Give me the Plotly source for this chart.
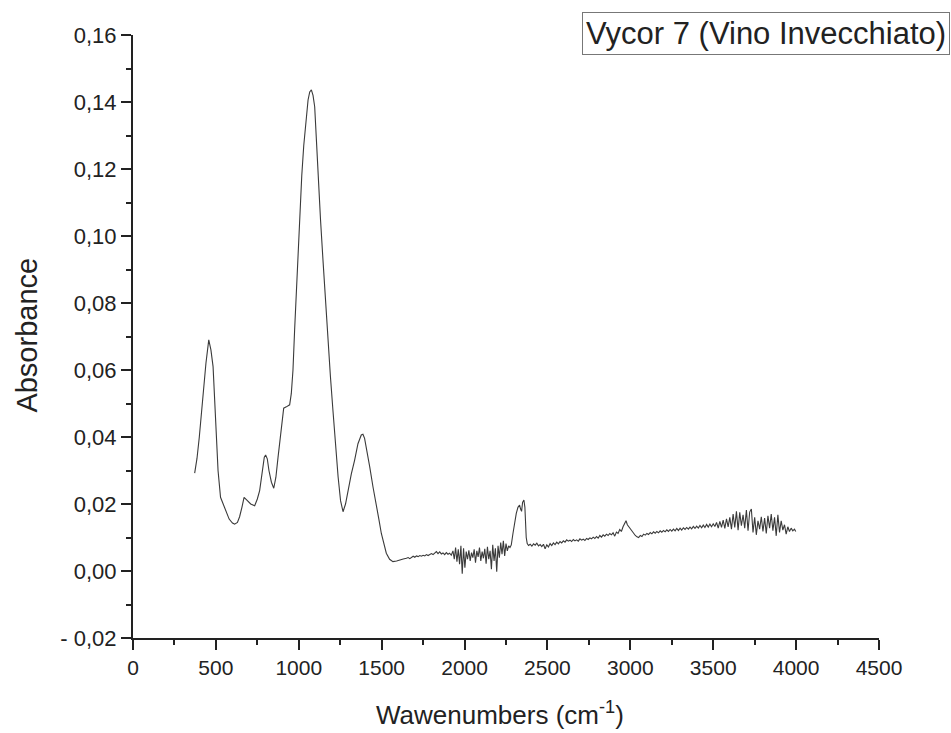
import plotly.graph_objects as go

# ---------------- data ----------------
wavenumber = [
    372, 386, 400, 420, 440, 457, 470, 483, 498, 513, 528, 543, 560, 580, 600, 613, 630, 643, 657, 670,
    690, 710, 734, 750, 764, 780, 792, 800, 810, 820, 835, 849, 862, 875, 892, 909, 925, 945, 955, 965,
    975, 985, 995, 1005, 1018, 1030, 1043, 1056, 1066, 1076, 1086, 1096, 1106, 1116, 1131, 1146, 1161,
    1176, 1191, 1206, 1221, 1237, 1252, 1267, 1282, 1297, 1317, 1337, 1357, 1377, 1387, 1397, 1412, 1428,
    1448, 1468, 1483, 1498, 1513, 1528, 1548, 1568, 1590, 1610, 1630, 1649,
    1660, 1670, 1680, 1690, 1700, 1710, 1720, 1730, 1740, 1750, 1760, 1770, 1780, 1790, 1800, 1810, 1820,
    1830, 1840, 1850, 1860, 1870, 1880, 1890, 1900, 1910, 1920,
    1930, 1938, 1946, 1954, 1962, 1970, 1978, 1986, 1994, 2002, 2010, 2018, 2026, 2034, 2042, 2050, 2058,
    2066, 2074, 2082, 2090, 2098, 2106, 2114, 2122, 2130, 2138, 2146, 2154, 2162, 2170, 2178, 2186, 2194,
    2202, 2210, 2218, 2226, 2234, 2242, 2250, 2258, 2266, 2274,
    2282, 2292, 2302, 2312, 2322, 2332, 2338, 2344, 2350, 2358, 2364, 2368, 2372, 2378, 2386, 2396, 2406,
    2416, 2426, 2436, 2446, 2456, 2466, 2476, 2486, 2496, 2506, 2516, 2526, 2536, 2546, 2556, 2566, 2576,
    2586, 2596, 2606, 2616, 2626, 2636, 2646, 2656, 2666, 2676, 2686, 2696, 2706, 2716, 2726, 2736, 2746,
    2756, 2766, 2776, 2786, 2796, 2806, 2816, 2826, 2836, 2846, 2856, 2866, 2876, 2886, 2896, 2906, 2916,
    2926, 2936, 2946, 2956, 2966, 2974, 2982, 2990, 3000, 3010, 3020, 3030, 3040, 3050, 3060, 3070, 3080,
    3090, 3100, 3110, 3120, 3130, 3140, 3150, 3160, 3170, 3180, 3190, 3200, 3210, 3220, 3230, 3240, 3250,
    3260, 3270, 3280, 3290, 3300, 3310, 3320, 3330, 3340, 3350, 3360, 3370, 3380, 3390, 3400, 3410, 3420,
    3430, 3440, 3450, 3460, 3470, 3480, 3490, 3500, 3510, 3520, 3530, 3540, 3550, 3560, 3570, 3580, 3590,
    3600, 3610, 3620, 3630, 3640, 3650, 3660, 3670, 3680, 3690, 3700, 3710, 3720, 3730, 3740, 3750, 3760,
    3770, 3780, 3790, 3800, 3810, 3820, 3830, 3840, 3850, 3860, 3870, 3880, 3890, 3900, 3910, 3920, 3930,
    3940, 3950, 3960, 3970, 3980, 3990, 3998,
]

absorbance = [
    0.0292, 0.0336, 0.0400, 0.0520, 0.0620, 0.0690, 0.0660, 0.0610, 0.0460, 0.0300, 0.0220, 0.0202,
    0.0180, 0.0155, 0.0143, 0.0140, 0.0145, 0.0162, 0.0190, 0.0220, 0.0210, 0.0200, 0.0195, 0.0215,
    0.0240, 0.0300, 0.0340, 0.0346, 0.0335, 0.0300, 0.0265, 0.0247, 0.0280, 0.0340, 0.0420, 0.0486,
    0.0490, 0.0496, 0.0530, 0.0600, 0.0720, 0.0830, 0.0960, 0.1080, 0.1180, 0.1270, 0.1350, 0.1406,
    0.1430, 0.1436, 0.1420, 0.1386, 0.1290, 0.1177, 0.1050, 0.0928, 0.0800, 0.0680, 0.0580, 0.0480,
    0.0380, 0.0282, 0.0210, 0.0177, 0.0200, 0.0242, 0.0290, 0.0331, 0.0380, 0.0406, 0.0408, 0.0396,
    0.0360, 0.0311, 0.0250, 0.0202, 0.0155, 0.0112, 0.0080, 0.0053, 0.0035, 0.0028, 0.0030, 0.0034,
    0.0036, 0.0038,
    0.0040, 0.0037, 0.0042, 0.0044, 0.0041, 0.0045, 0.0043, 0.0046, 0.0044, 0.0047, 0.0045, 0.0049,
    0.0046, 0.0048, 0.0052, 0.0049, 0.0053, 0.0058, 0.0052, 0.0057, 0.0051, 0.0054, 0.0049, 0.0055,
    0.0050, 0.0053, 0.0047,
    0.0060, 0.0035, 0.0070, 0.0028, 0.0065, 0.0020, 0.0075, -0.0008, 0.0068, 0.0010, 0.0058, 0.0035,
    0.0062, 0.0030, 0.0055, 0.0040, 0.0065, 0.0025, 0.0060, 0.0042, 0.0070, 0.0030, 0.0058, 0.0038,
    0.0066, 0.0022, 0.0072, 0.0035, 0.0060, 0.0005, 0.0078, 0.0030, 0.0068, -0.0002, 0.0075, 0.0040,
    0.0085, 0.0050, 0.0090, 0.0045, 0.0082, 0.0060, 0.0075, 0.0070,
    0.0078, 0.0112, 0.0150, 0.0172, 0.0190, 0.0197, 0.0185, 0.0178, 0.0205, 0.0212, 0.0190, 0.0140,
    0.0100, 0.0082, 0.0076, 0.0080, 0.0074, 0.0081, 0.0077, 0.0083, 0.0075, 0.0079, 0.0073, 0.0080,
    0.0066, 0.0078, 0.0072, 0.0082, 0.0076, 0.0084, 0.0079, 0.0086, 0.0081, 0.0088, 0.0084, 0.0090,
    0.0086, 0.0093, 0.0089, 0.0092, 0.0088, 0.0094, 0.0090, 0.0093, 0.0089, 0.0096, 0.0092, 0.0095,
    0.0091, 0.0097, 0.0094, 0.0099, 0.0096, 0.0101, 0.0097, 0.0103, 0.0098, 0.0106, 0.0101, 0.0108,
    0.0104, 0.0110, 0.0106, 0.0112, 0.0108, 0.0114, 0.0104, 0.0116, 0.0112, 0.0124, 0.0118, 0.0132,
    0.0145, 0.0150, 0.0138, 0.0132, 0.0125, 0.0120, 0.0112, 0.0106, 0.0102, 0.0100, 0.0106, 0.0103,
    0.0110, 0.0107, 0.0112, 0.0109, 0.0115, 0.0111, 0.0117, 0.0113, 0.0118, 0.0114, 0.0120, 0.0116,
    0.0121, 0.0117, 0.0123, 0.0118, 0.0124, 0.0119, 0.0125, 0.0120, 0.0127, 0.0121, 0.0128, 0.0122,
    0.0129, 0.0124, 0.0130, 0.0125, 0.0131, 0.0126, 0.0133, 0.0127, 0.0134, 0.0128, 0.0136, 0.0129,
    0.0137, 0.0130, 0.0139, 0.0131, 0.0140, 0.0132, 0.0141, 0.0133, 0.0145, 0.0128, 0.0148, 0.0130,
    0.0152, 0.0127, 0.0156, 0.0132, 0.0160, 0.0125, 0.0170, 0.0130, 0.0178, 0.0122, 0.0175, 0.0135,
    0.0168, 0.0128, 0.0182, 0.0120, 0.0176, 0.0185, 0.0115, 0.0160, 0.0108, 0.0150, 0.0125, 0.0162,
    0.0118, 0.0158, 0.0112, 0.0165, 0.0128, 0.0170, 0.0120, 0.0160, 0.0105, 0.0168, 0.0115, 0.0150,
    0.0122, 0.0138, 0.0110, 0.0132, 0.0118, 0.0128, 0.0120, 0.0125, 0.0118,
]

x_tickvals = [0, 500, 1000, 1500, 2000, 2500, 3000, 3500, 4000, 4500]
x_ticktext = ["0", "500", "1000", "1500", "2000", "2500", "3000", "3500", "4000", "4500"]
y_tickvals = [-0.02, 0.00, 0.02, 0.04, 0.06, 0.08, 0.10, 0.12, 0.14, 0.16]
y_ticktext = ["- 0,02", "0,00", "0,02", "0,04", "0,06", "0,08", "0,10", "0,12", "0,14", "0,16"]

legend_label = "Vycor 7 (Vino Invecchiato)"
x_title = "Wawenumbers (cm<sup>-1</sup>)"
y_title = "Absorbance"

# ---------------- figure ----------------
FONT = "Liberation Sans, Arial, sans-serif"
AX = "#222222"

fig = go.Figure()
fig.add_trace(go.Scatter(
    x=wavenumber, y=absorbance, mode="lines",
    line=dict(color="#3a3a3a", width=1.1),
    showlegend=False, hoverinfo="x+y",
))

fig.update_layout(
    width=951, height=733,
    margin=dict(l=133, r=72, t=35, b=95),
    paper_bgcolor="white", plot_bgcolor="white",
    font=dict(family=FONT, color=AX),
    showlegend=False,
    xaxis=dict(
        range=[0, 4500], showgrid=False, zeroline=False,
        showline=True, linecolor=AX, linewidth=2,
        ticks="outside", ticklen=10, tickwidth=2, tickcolor=AX,
        tickvals=x_tickvals, ticktext=x_ticktext,
        tickfont=dict(size=21, family=FONT, color=AX),
        minor=dict(ticks="outside", dtick=250, tick0=0, ticklen=5, tickwidth=2, tickcolor=AX, showgrid=False),
    ),
    yaxis=dict(
        range=[-0.02, 0.16], showgrid=False, zeroline=False,
        showline=True, linecolor=AX, linewidth=2,
        ticks="outside", ticklen=10, tickwidth=2, tickcolor=AX,
        tickvals=y_tickvals, ticktext=y_ticktext,
        tickfont=dict(size=22, family=FONT, color=AX),
        minor=dict(ticks="outside", dtick=0.01, tick0=0, ticklen=5, tickwidth=2, tickcolor=AX, showgrid=False),
    ),
    annotations=[
        dict(text=x_title, xref="paper", yref="paper", x=0.492, y=-0.126,
             xanchor="center", yanchor="middle", showarrow=False,
             font=dict(size=26, family=FONT, color=AX)),
        dict(text=y_title, xref="paper", yref="paper", x=-0.1426, y=0.5025,
             xanchor="center", yanchor="middle", showarrow=False, textangle=-90,
             font=dict(size=29, family=FONT, color=AX)),
        dict(text=legend_label, xref="paper", yref="paper", x=0.848, y=1.0025,
             xanchor="center", yanchor="middle", showarrow=False,
             bordercolor="#777777", borderwidth=1, borderpad=3, bgcolor="white",
             font=dict(size=31, family=FONT, color=AX)),
    ],
)

fig.write_html("out.html")
